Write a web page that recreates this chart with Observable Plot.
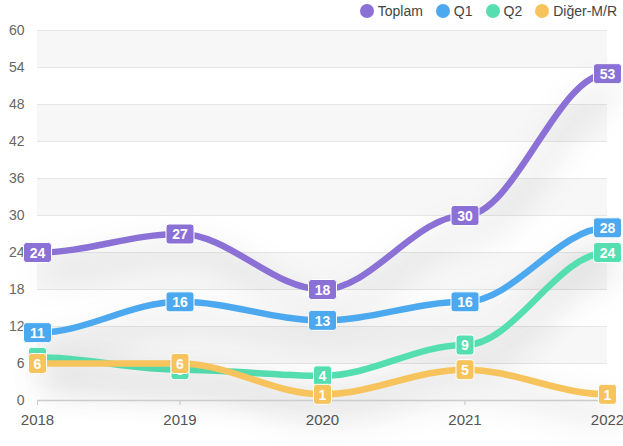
<!DOCTYPE html>
<html>
<head>
<meta charset="utf-8">
<script src="https://cdn.jsdelivr.net/npm/d3@7"></script>
<script src="https://cdn.jsdelivr.net/npm/@observablehq/plot@0.6"></script>
<style>
  body { margin: 0; background: #fff; font-family: "Liberation Sans", Arial, sans-serif; }
  #wrap { position: relative; width: 623px; height: 446px; overflow: hidden; }
  #legend { position: absolute; top: 3px; right: 6px; display: flex; align-items: center; font-size: 14px; color: #444; z-index: 2; }
  .item { display: flex; align-items: center; margin-left: 13px; }
  .dot { width: 14px; height: 14px; border-radius: 50%; margin-right: 4px; }
</style>
</head>
<body>
<div id="wrap"><div id="legend"></div></div>
<script>
const years = [2018, 2019, 2020, 2021, 2022];
const seriesNames = ["Toplam", "Q1", "Q2", "Diğer-M/R"];
const toplam = [24, 27, 18, 30, 53];
const q1 = [11, 16, 13, 16, 28];
const q2 = [7, 5, 4, 9, 24];
const diger = [6, 6, 1, 5, 1];
const yTicks = [0, 6, 12, 18, 24, 30, 36, 42, 48, 54, 60];
const colors = ["#8b71d6", "#4ca9ef", "#55dfb0", "#f6c35d"];

const valuesBySeries = [toplam, q1, q2, diger];
const data = [];
seriesNames.forEach((s, i) => years.forEach((y, j) => data.push({series: s, year: y, value: valuesBySeries[i][j]})));

const bands = [];
for (let i = 0; i < yTicks.length - 1; i++) {
  if ((yTicks.length - 2 - i) % 2 === 0) bands.push({lo: yTicks[i], hi: yTicks[i + 1]});
}

// smooth curve with horizontal tangents at each point (control points at 35% of each segment)
function smoothCurve(context) {
  let x0, y0, n = 0;
  return {
    areaStart() {}, areaEnd() {},
    lineStart() { n = 0; },
    lineEnd() {},
    point(x, y) {
      x = +x; y = +y;
      if (n === 0) context.moveTo(x, y);
      else { const l = (x - x0) * 0.35; context.bezierCurveTo(x0 + l, y0, x - l, y, x, y); }
      n++; x0 = x; y0 = y;
    }
  };
}

function boxSymbol(w, h, r) {
  return {draw(ctx) {
    const x0 = -w / 2, y0 = -h / 2, x1 = w / 2, y1 = h / 2;
    ctx.moveTo(x0 + r, y0);
    ctx.lineTo(x1 - r, y0); ctx.arcTo(x1, y0, x1, y0 + r, r);
    ctx.lineTo(x1, y1 - r); ctx.arcTo(x1, y1, x1 - r, y1, r);
    ctx.lineTo(x0 + r, y1); ctx.arcTo(x0, y1, x0, y1 - r, r);
    ctx.lineTo(x0, y0 + r); ctx.arcTo(x0, y0, x0 + r, y0, r);
    ctx.closePath();
  }};
}
const wideBox = boxSymbol(28, 20, 3);
const narrowBox = boxSymbol(18, 20, 3);

const lineMarks = seriesNames.map((s, i) =>
  Plot.line(data.filter(d => d.series === s), {x: "year", y: "value", stroke: colors[i], strokeWidth: 6.5, curve: smoothCurve})
);
const labelMarks = seriesNames.flatMap((s, i) => {
  const rows = data.filter(d => d.series === s);
  return [
    Plot.dot(rows.filter(d => String(d.value).length > 1), {x: "year", y: "value", symbol: wideBox, r: 5, fill: colors[i], stroke: "#fff", strokeWidth: 1}),
    Plot.dot(rows.filter(d => String(d.value).length === 1), {x: "year", y: "value", symbol: narrowBox, r: 5, fill: colors[i], stroke: "#fff", strokeWidth: 1}),
    Plot.text(rows, {x: "year", y: "value", text: d => String(d.value), fill: "#fff", fontWeight: "bold", fontSize: 14, dy: 1})
  ];
});

const chart = Plot.plot({
  width: 623,
  height: 446,
  marginLeft: 37,
  marginRight: 16,
  marginTop: 30,
  marginBottom: 46,
  style: {fontFamily: "'Liberation Sans', Arial, sans-serif", background: "transparent", overflow: "visible"},
  x: {domain: [2018, 2022]},
  y: {domain: [0, 60]},
  marks: [
    Plot.rect(bands, {y1: "lo", y2: "hi", fill: "#f7f7f7"}),
    Plot.ruleY(yTicks.slice(1), {stroke: "#e6e6e6", strokeWidth: 1}),
    Plot.axisY({ticks: yTicks, tickSize: 0, tickPadding: 13, fontSize: 14, fill: "#666", label: null}),
    Plot.axisX({ticks: years, tickFormat: d => String(d), tickSize: 5, tickPadding: 9, fontSize: 15, fill: "#555", stroke: "#ccc", label: null}),
    ...lineMarks,
    Plot.ruleY([0], {stroke: "#ccc", strokeWidth: 1.5}),
    ...labelMarks
  ]
});

d3.select(chart).selectAll('g[aria-label="line"]').style("filter", "drop-shadow(7px 18px 16px rgba(0,0,0,0.25))");
document.getElementById("wrap").appendChild(chart);

const legend = document.getElementById("legend");
seriesNames.forEach((s, i) => {
  const it = document.createElement("div");
  it.className = "item";
  const dot = document.createElement("span");
  dot.className = "dot";
  dot.style.background = colors[i];
  const t = document.createElement("span");
  t.textContent = s;
  it.appendChild(dot); it.appendChild(t);
  legend.appendChild(it);
});
</script>
</body>
</html>
